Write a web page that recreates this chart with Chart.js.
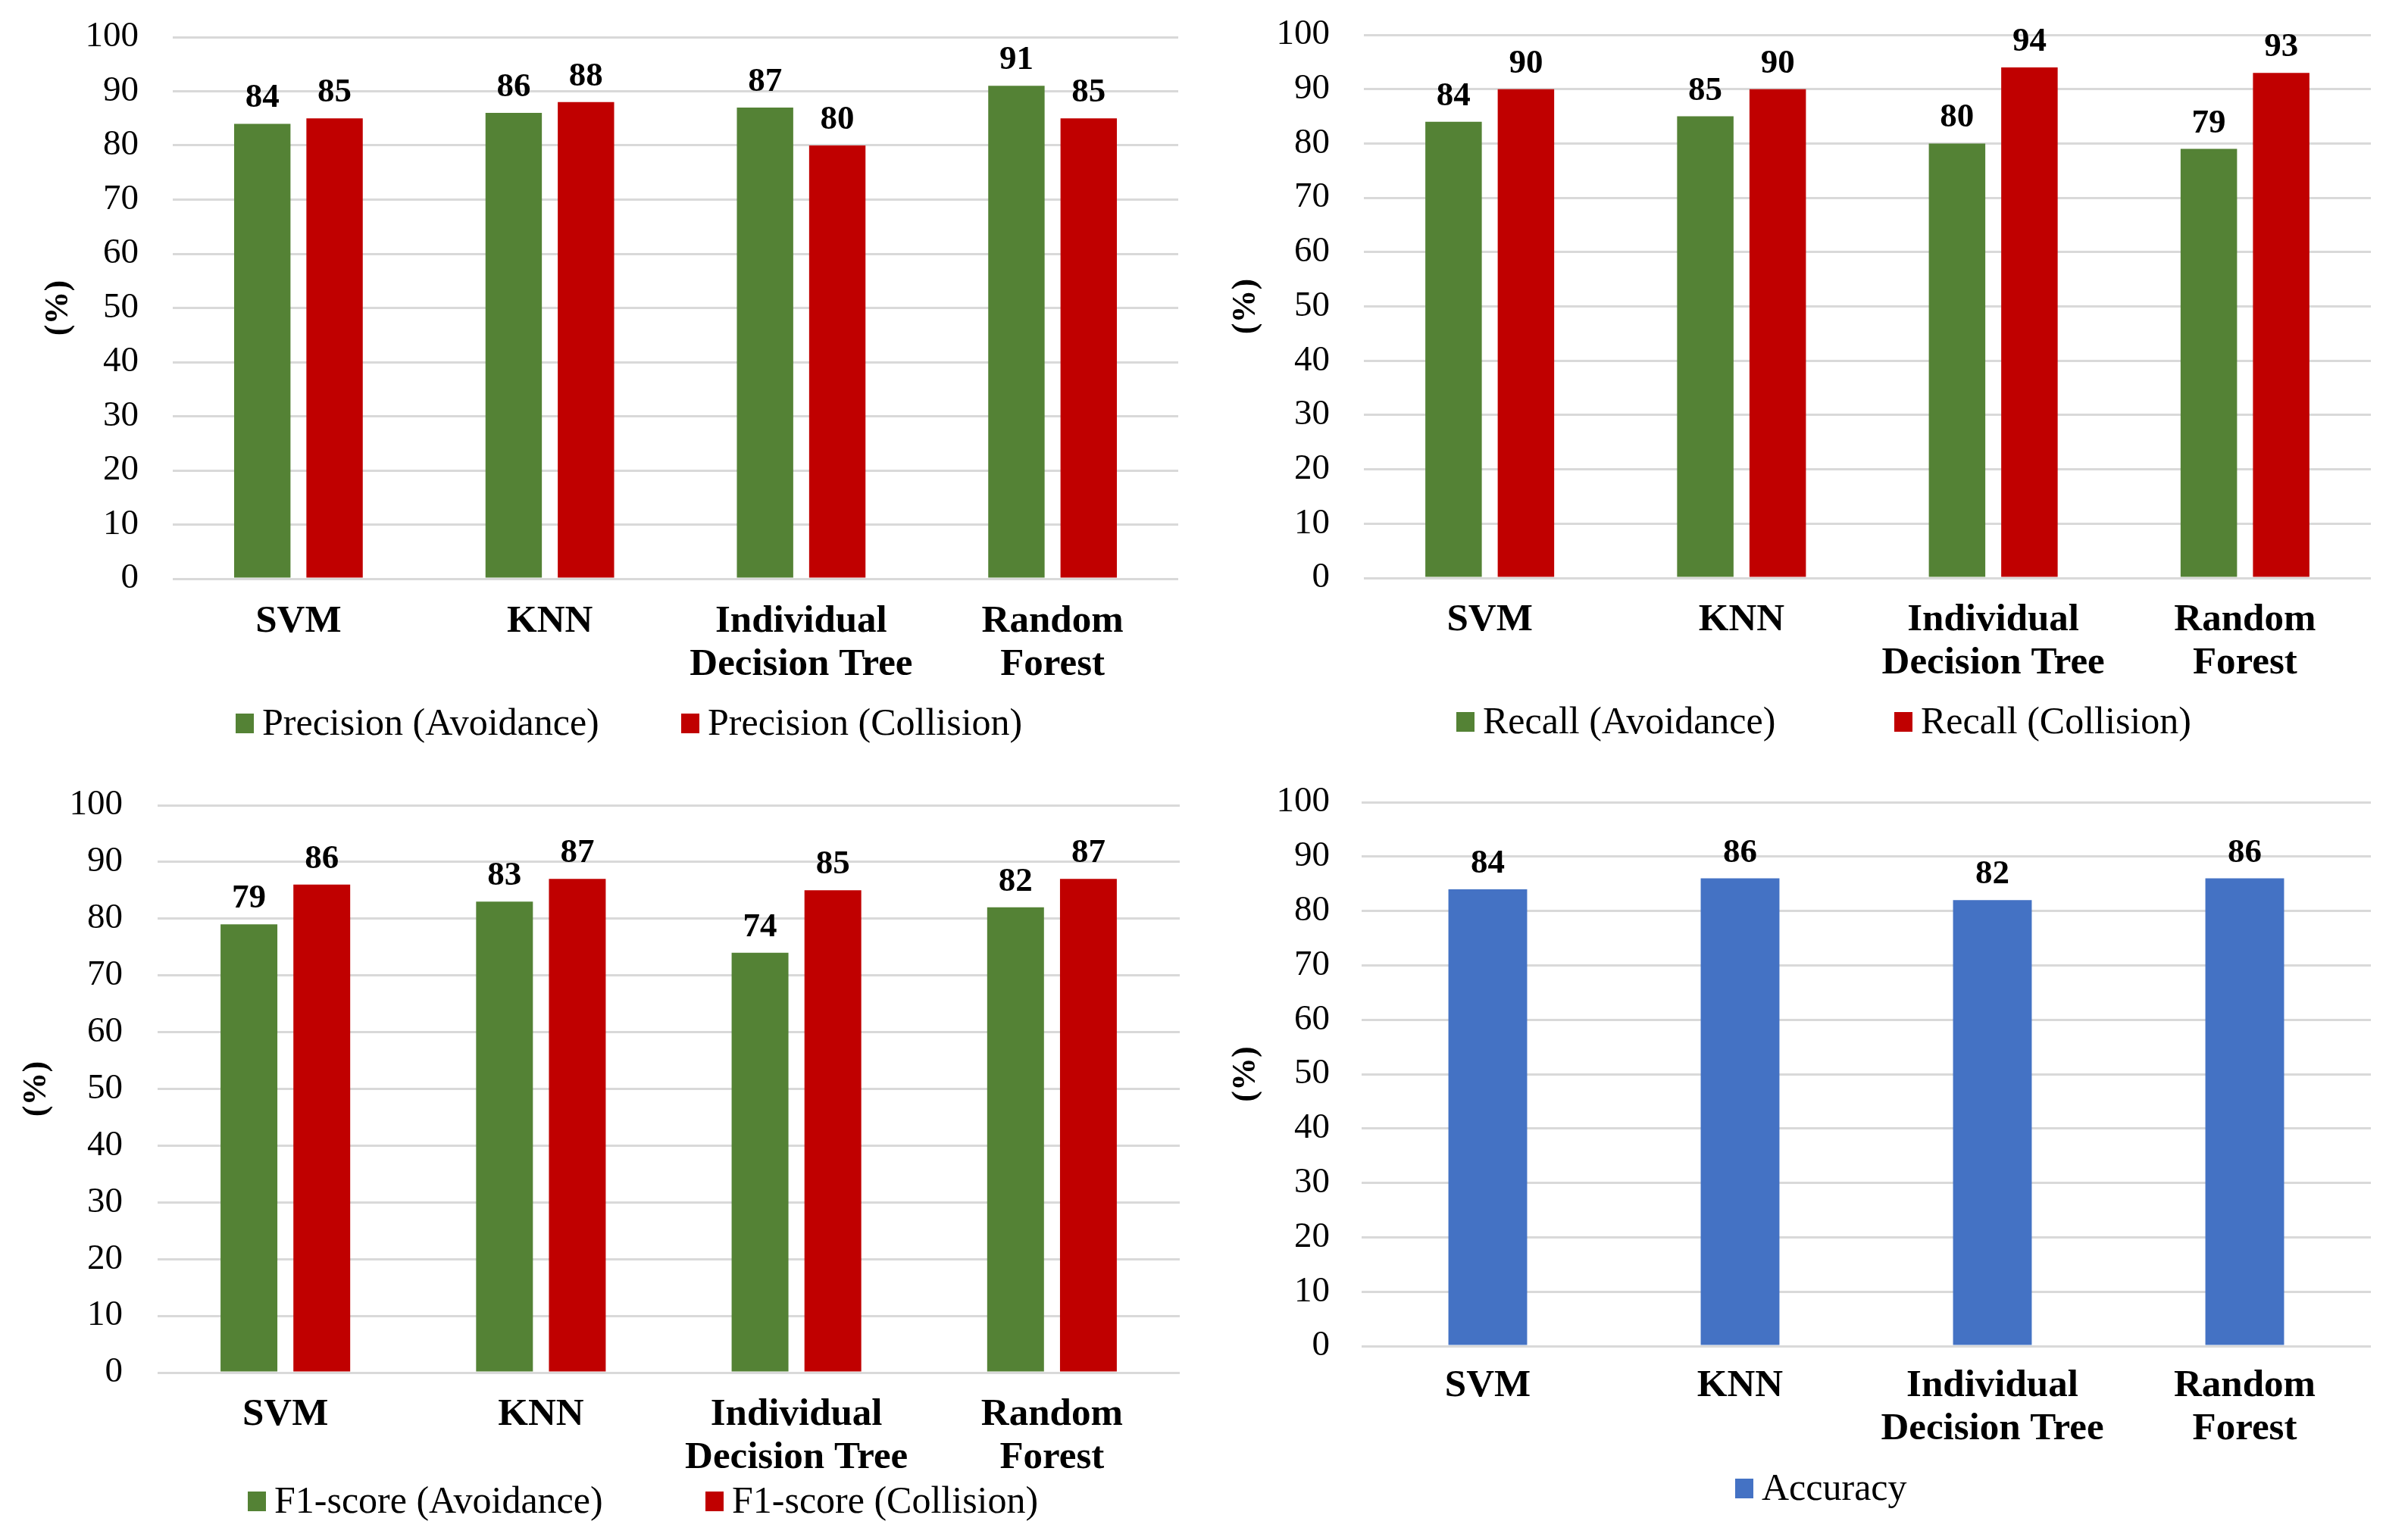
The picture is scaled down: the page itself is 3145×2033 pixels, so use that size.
<!DOCTYPE html>
<html>
<head>
<meta charset="utf-8">
<script src="https://cdn.jsdelivr.net/npm/chart.js@4.4.1/dist/chart.umd.min.js"></script>
<style>
  html, body { margin: 0; padding: 0; background: #ffffff; }
  body { width: 3145px; height: 2033px; position: relative; overflow: hidden; }
  canvas { position: absolute; }
</style>
</head>
<body>
<canvas id="c1"></canvas>
<canvas id="c2"></canvas>
<canvas id="c3"></canvas>
<canvas id="c4"></canvas>
<script>
// ---------- DATA ----------
const categories = ['SVM', 'KNN', ['Individual', 'Decision Tree'], ['Random', 'Forest']];
const yTicks = [0, 10, 20, 30, 40, 50, 60, 70, 80, 90, 100];

const precisionAvoidance = [84, 86, 87, 91];
const precisionCollision = [85, 88, 80, 85];
const recallAvoidance    = [84, 85, 80, 79];
const recallCollision    = [90, 90, 94, 93];
const f1Avoidance        = [79, 83, 74, 82];
const f1Collision        = [86, 87, 85, 87];
const accuracy           = [84, 86, 82, 86];

const seriesLabels = {
  pA: 'Precision (Avoidance)', pC: 'Precision (Collision)',
  rA: 'Recall (Avoidance)',    rC: 'Recall (Collision)',
  fA: 'F1-score (Avoidance)',  fC: 'F1-score (Collision)',
  acc: 'Accuracy'
};

// ---------- STYLE ----------
const GREEN = '#548235', RED = '#C00000', BLUE = '#4472C4';
const GRID = '#D9D9D9';

// pick an installed Times-like serif font
function pickSerif() {
  const cands = ['Liberation Serif', 'Tinos', 'Times New Roman', 'Times', 'Nimbus Roman', 'Nimbus Roman No9 L',
                 'FreeSerif', 'DejaVu Serif', 'Noto Serif', 'Bitstream Vera Serif', 'Georgia'];
  const c = document.createElement('canvas').getContext('2d');
  const s = 'Precision (Avoidance) 0123456789 WMiil';
  for (const f of cands) {
    c.font = `50px "${f}", monospace`; const a = c.measureText(s).width;
    c.font = `50px "${f}", sans-serif`; const b = c.measureText(s).width;
    c.font = `50px monospace`; const m = c.measureText(s).width;
    if (Math.abs(a - b) < 0.01 && Math.abs(a - m) > 0.01) return `"${f}", serif`;
  }
  return 'serif';
}
const FONT = pickSerif();

const valueLabels = {
  id: 'valueLabels',
  afterDatasetsDraw(chart) {
    const ctx = chart.ctx;
    ctx.save();
    ctx.font = 'bold 45px ' + FONT;
    ctx.fillStyle = '#000';
    ctx.textAlign = 'center';
    ctx.textBaseline = 'alphabetic';
    chart.data.datasets.forEach((ds, di) => {
      const meta = chart.getDatasetMeta(di);
      meta.data.forEach((el, i) => {
        ctx.fillText(String(ds.data[i]), el.x, el.y - 22);
      });
    });
    ctx.restore();
  }
};

const boxLegend = {
  id: 'boxLegend',
  afterDraw(chart, args, opts) {
    const ctx = chart.ctx;
    ctx.save();
    ctx.font = '50px ' + FONT;
    ctx.textBaseline = 'middle';
    ctx.textAlign = 'left';
    chart.data.datasets.forEach((ds, di) => {
      const x = opts.xs[di];
      const y = opts.y;
      ctx.fillStyle = ds.backgroundColor;
      ctx.fillRect(x, y - 13, 24, 26);
      ctx.fillStyle = '#000';
      ctx.fillText(ds.label, x + 35, y + 2);
    });
    ctx.restore();
  }
};

function makeChart(id, pos, datasets) {
  const cv = document.getElementById(id);
  cv.style.left = pos.left + 'px';
  cv.style.top = pos.top + 'px';
  cv.style.width = pos.w + 'px';
  cv.style.height = pos.h + 'px';
  cv.width = pos.w; cv.height = pos.h;
  return new Chart(cv, {
    type: 'bar',
    data: { labels: categories, datasets: datasets },
    plugins: [valueLabels, boxLegend],
    options: {
      responsive: false,
      animation: false,
      devicePixelRatio: 1,
      layout: { padding: { top: pos.chartT, right: pos.w - pos.chartR, bottom: 0, left: 0 } },
      datasets: { bar: { categoryPercentage: pos.catPct, barPercentage: pos.barPct } },
      plugins: {
        legend: { display: false },
        tooltip: { enabled: false },
        boxLegend: { xs: pos.legendXs, y: pos.legendY }
      },
      scales: {
        x: {
          grid: { display: false, drawTicks: false },
          border: { display: false },
          ticks: {
            color: '#000',
            font: { family: FONT, size: 51, weight: 'bold', lineHeight: 1.12 },
            padding: pos.xPad,
            maxRotation: 0, minRotation: 0, autoSkip: false
          },
          afterFit(s) {
            s.height = pos.h - pos.chartB;
            s.paddingLeft = 0; s.paddingRight = 0;
          }
        },
        y: {
          min: 0, max: 100,
          afterBuildTicks(s) { s.ticks = yTicks.map(v => ({ value: v })); },
          grid: { color: GRID, lineWidth: 3, drawTicks: false },
          border: { display: false },
          ticks: {
            color: '#000',
            font: { family: FONT, size: 47 },
            padding: pos.chartL - pos.tickRight
          },
          title: {
            display: true,
            text: '(%)',
            color: '#000',
            font: { family: FONT, size: 44, weight: 'bold', lineHeight: 1.2 },
            padding: { top: pos.titleX - 26.4, bottom: 0 }
          },
          afterFit(s) {
            s.width = pos.chartL;
            s.paddingTop = 0; s.paddingBottom = 0;
          }
        }
      }
    }
  });
}

const pairPct = { catPct: 0.575, barPct: 0.78 };

makeChart('c1',
  Object.assign({ left: 0, top: 0, w: 1572, h: 1016, chartL: 228, chartR: 1555, chartT: 49, chartB: 764,
    tickRight: 183, titleX: 78, xPad: 28, legendY: 955, legendXs: [311, 899] }, pairPct),
  [
    { label: seriesLabels.pA, data: precisionAvoidance, backgroundColor: GREEN },
    { label: seriesLabels.pC, data: precisionCollision, backgroundColor: RED }
  ]);

makeChart('c2',
  Object.assign({ left: 1572, top: 0, w: 1573, h: 1016, chartL: 228, chartR: 1557, chartT: 46, chartB: 763,
    tickRight: 183, titleX: 73, xPad: 27, legendY: 953, legendXs: [350, 928] }, pairPct),
  [
    { label: seriesLabels.rA, data: recallAvoidance, backgroundColor: GREEN },
    { label: seriesLabels.rC, data: recallCollision, backgroundColor: RED }
  ]);

makeChart('c3',
  Object.assign({ left: 0, top: 1016, w: 1572, h: 1017, chartL: 208, chartR: 1557, chartT: 47, chartB: 796,
    tickRight: 162, titleX: 49, xPad: 27, legendY: 966, legendXs: [327, 931] }, { catPct: 0.57, barPct: 0.78 }),
  [
    { label: seriesLabels.fA, data: f1Avoidance, backgroundColor: GREEN },
    { label: seriesLabels.fC, data: f1Collision, backgroundColor: RED }
  ]);

makeChart('c4',
  { left: 1572, top: 1016, w: 1573, h: 1017, chartL: 225, chartR: 1557, chartT: 43, chartB: 761,
    tickRight: 183, titleX: 73, xPad: 24, legendY: 949, legendXs: [718], catPct: 0.8, barPct: 0.39 },
  [
    { label: seriesLabels.acc, data: accuracy, backgroundColor: BLUE }
  ]);
</script>
</body>
</html>
